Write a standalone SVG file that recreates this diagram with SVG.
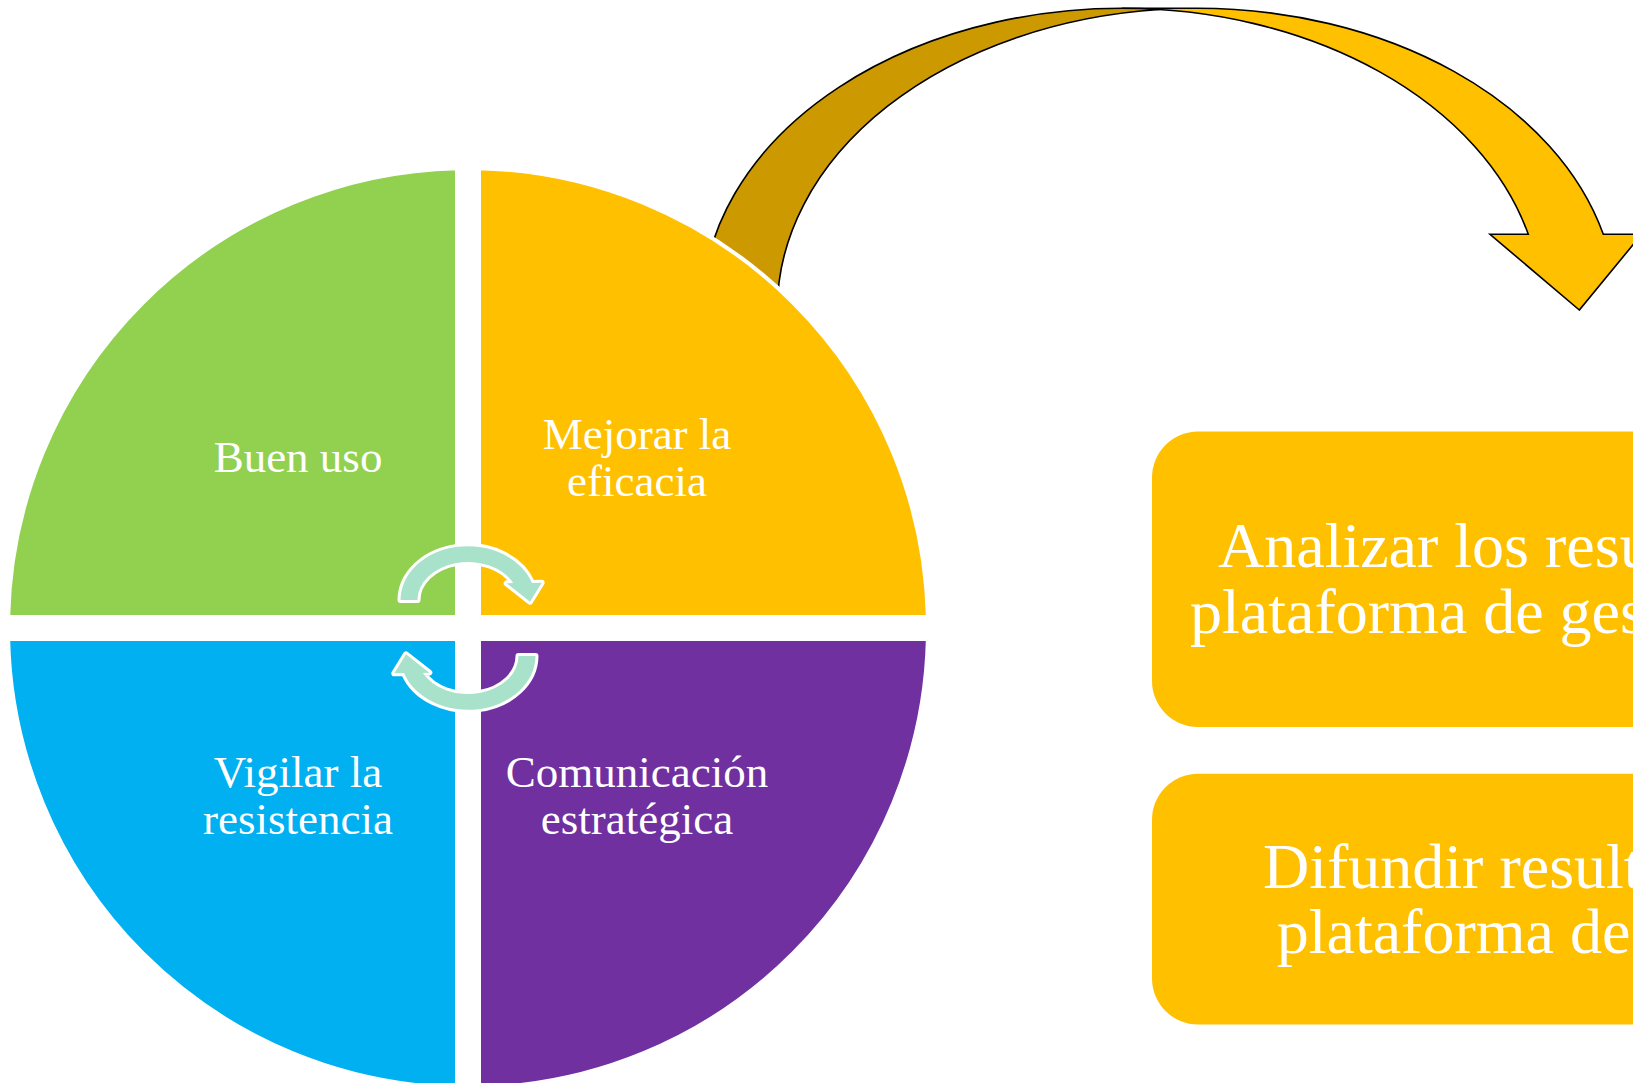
<svg xmlns="http://www.w3.org/2000/svg" xmlns:xlink="http://www.w3.org/1999/xlink" width="1633" height="1083" viewBox="0 0 1633 1083">
<style>
.q{font-family:"Liberation Serif","Times New Roman",serif;font-size:45px;fill:#fff;text-anchor:middle}
.b{font-family:"Liberation Serif","Times New Roman",serif;font-size:64px;fill:#fff}
.quad{stroke:#fff;stroke-width:4}
.arw{stroke:#000;stroke-width:1.6;stroke-linejoin:miter}
.ca{fill:#A9E2CB;stroke:#fff;stroke-width:6;paint-order:stroke;stroke-linejoin:round}
.box{fill:#FFC000}
</style>
<defs>
<path id="ca" d="M400.5,600 A67.5 54 0 0 1 532,583 L541.7,582.7 L530,601.7 L506.7,583.3 L513.2,583 A50.5 38 0 0 0 417.5,600 Z"/>
</defs>
<rect width="1633" height="1083" fill="#fff"/>
<g id="connectors">
<g id="big-arrow">
<path class="arw" fill="#FFC000" d="M1579.3,310 L1490,234.3 L1528.3,234.3 A419.7 301.7 0 0 0 1122,8.3 L1197,8.3 A419.7 301.7 0 0 1 1603.3,234.3 L1641.6,234.3 Z"/>
<path class="arw" fill="#CC9A00" d="M1159.5,9.5 A419.7 301.7 0 0 0 777.3,310 L702.3,310 A419.7 301.7 0 0 1 1159.5,9.5 Z"/>
</g>
</g>
<g id="node-buen-uso">
<path class="quad" fill="#92D050" d="M457,617 L457,168.13 A460 460 0 0 0 8.13,617 Z"/>
<text class="q" x="298" y="471.7">Buen uso</text>
</g>
<g id="node-mejorar">
<path class="quad" fill="#FFC000" d="M479,617 L479,168.13 A460 460 0 0 1 927.87,617 Z"/>
<text class="q" x="637" y="449">Mejorar la</text>
<text class="q" x="637" y="496">eficacia</text>
</g>
<g id="node-vigilar">
<path class="quad" fill="#00B0F0" d="M457,639 L8.13,639 A460 460 0 0 0 457,1087.87 Z"/>
<text class="q" x="298" y="786.7">Vigilar la</text>
<text class="q" x="298" y="834">resistencia</text>
</g>
<g id="node-comunicacion">
<path class="quad" fill="#7030A0" d="M479,639 L927.87,639 A460 460 0 0 1 479,1087.87 Z"/>
<text class="q" x="637" y="786.7">Comunicación</text>
<text class="q" x="637" y="834">estratégica</text>
</g>
<g id="cycle-arrows">
<use xlink:href="#ca" href="#ca" class="ca"/>
<use xlink:href="#ca" href="#ca" class="ca" transform="rotate(180 468 628)"/>
</g>
<g id="node-analizar">
<rect class="box" x="1152" y="431.5" width="640" height="295.5" rx="46" ry="46"/>
<text class="b" x="1218" y="566.6">Analizar los resu</text>
<text class="b" x="1190" y="632.5">plataforma de ges</text>
</g>
<g id="node-difundir">
<rect class="box" x="1152" y="773.7" width="640" height="250.8" rx="46" ry="46"/>
<text class="b" x="1263" y="887.5">Difundir result</text>
<text class="b" x="1276.7" y="953">plataforma de</text>
</g>
</svg>
